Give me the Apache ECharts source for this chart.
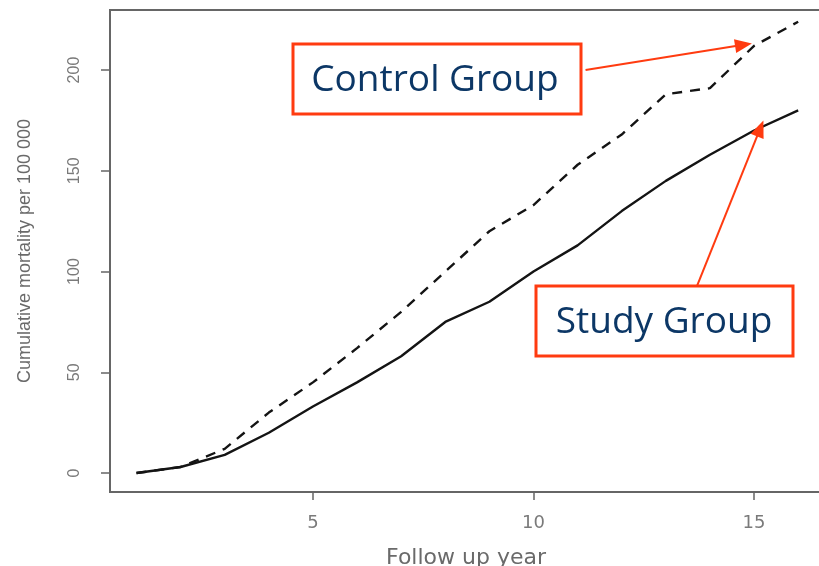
<!DOCTYPE html>
<html>
<head>
<meta charset="utf-8">
<script src="https://cdn.jsdelivr.net/npm/echarts@6/dist/echarts.min.js"></script>
<style>html,body{margin:0;padding:0;background:#fff}#c{width:819px;height:566px}</style>
</head>
<body>
<div id="c"></div>
<script>
var years = [1,2,3,4,5,6,7,8,9,10,11,12,13,14,15,16];
var studyGroup = [0,3,9,20,33,45,58,75,85,100,113,130,145,158,170,180];
var controlGroup = [0,3,12,30,45,62,80,100,120,133,153,168,188,191,212,224];
var xTicks = [5,10,15];
var yTicks = [0,50,100,150,200];
var labels = {control: 'Control Group', study: 'Study Group', x: 'Follow up year', y: 'Cumulative mortality per 100 000'};

function pairs(xs, ys){ return xs.map(function(x,i){ return [x, ys[i]]; }); }

var chart = echarts.init(document.getElementById('c'), null, {renderer:'canvas'});
var axisColor = '#666';
var labelColor = '#7a7a7a';
var boxColor = '#ff3b10';
var textColor = '#0c3766';

chart.setOption({
  animation: false,
  backgroundColor: '#fff',
  grid: {left: 110, top: 10, right: -3, bottom: 74, outerBoundsMode: 'none', containLabel: false,
         show: true, borderColor: axisColor, borderWidth: 2, backgroundColor: 'transparent'},
  xAxis: {
    type: 'value', min: 0.4, max: 16.54,
    axisLine: {show: true, onZero: false, lineStyle: {color: axisColor, width: 2}},
    axisTick: {show: true, customValues: xTicks, length: 8, inside: false, lineStyle: {color: axisColor, width: 1.5}},
    axisLabel: {customValues: xTicks, color: labelColor, fontSize: 18, fontFamily: '"DejaVu Sans", sans-serif', margin: 22},
    splitLine: {show: false},
    name: labels.x, nameLocation: 'middle', nameGap: 55,
    nameTextStyle: {color: '#6a6a6a', fontSize: 22, fontFamily: '"DejaVu Sans", sans-serif'}
  },
  yAxis: {
    type: 'value', min: -9.4, max: 229.8,
    axisLine: {show: true, onZero: false, lineStyle: {color: axisColor, width: 2}},
    axisTick: {show: true, customValues: yTicks, length: 9, lineStyle: {color: axisColor, width: 1.5}},
    axisLabel: {customValues: yTicks, color: labelColor, fontSize: 16, rotate: 90, fontFamily: '"Liberation Sans", Arial, sans-serif', margin: 27},
    splitLine: {show: false},
    name: labels.y, nameLocation: 'middle', nameGap: 76,
    nameTextStyle: {color: '#6a6a6a', fontSize: 18, fontFamily: '"Liberation Sans", Arial, sans-serif'}
  },
  series: [
    {
      name: labels.study, type: 'line', data: pairs(years, studyGroup), showSymbol: false, symbol: 'none',
      lineStyle: {color: '#141414', width: 2.4}, z: 3,
      markLine: {
        silent: true, symbol: ['none', 'triangle'], symbolSize: [14, 17],
        lineStyle: {color: boxColor, width: 2, type: 'solid'}, label: {show: false},
        data: [[{coord: [13.71, 93]}, {coord: [15.14, 171]}]]
      }
    },
    {
      name: labels.control, type: 'line', data: pairs(years, controlGroup), showSymbol: false, symbol: 'none',
      lineStyle: {color: '#141414', width: 2.4, type: [10, 8]}, z: 3,
      markLine: {
        silent: true, symbol: ['none', 'triangle'], symbolSize: [14, 17],
        lineStyle: {color: boxColor, width: 2, type: 'solid'}, label: {show: false},
        data: [[{coord: [11.18, 200]}, {coord: [14.76, 212.5]}]]
      }
    }
  ],
  graphic: [
    {type: 'rect', shape: {x: 293, y: 44, width: 288, height: 70}, style: {fill: '#fff', stroke: boxColor, lineWidth: 3}, z: 10},
    {type: 'text', x: 435, y: 80, style: {text: labels.control, fill: textColor, font: '37px "Open Sans", sans-serif', textAlign: 'center', textVerticalAlign: 'middle'}, z: 11},
    {type: 'rect', shape: {x: 536, y: 286, width: 257, height: 70}, style: {fill: '#fff', stroke: boxColor, lineWidth: 3}, z: 10},
    {type: 'text', x: 664, y: 322, style: {text: labels.study, fill: textColor, font: '37px "Open Sans", sans-serif', textAlign: 'center', textVerticalAlign: 'middle'}, z: 11}
  ]
});
</script>
</body>
</html>
